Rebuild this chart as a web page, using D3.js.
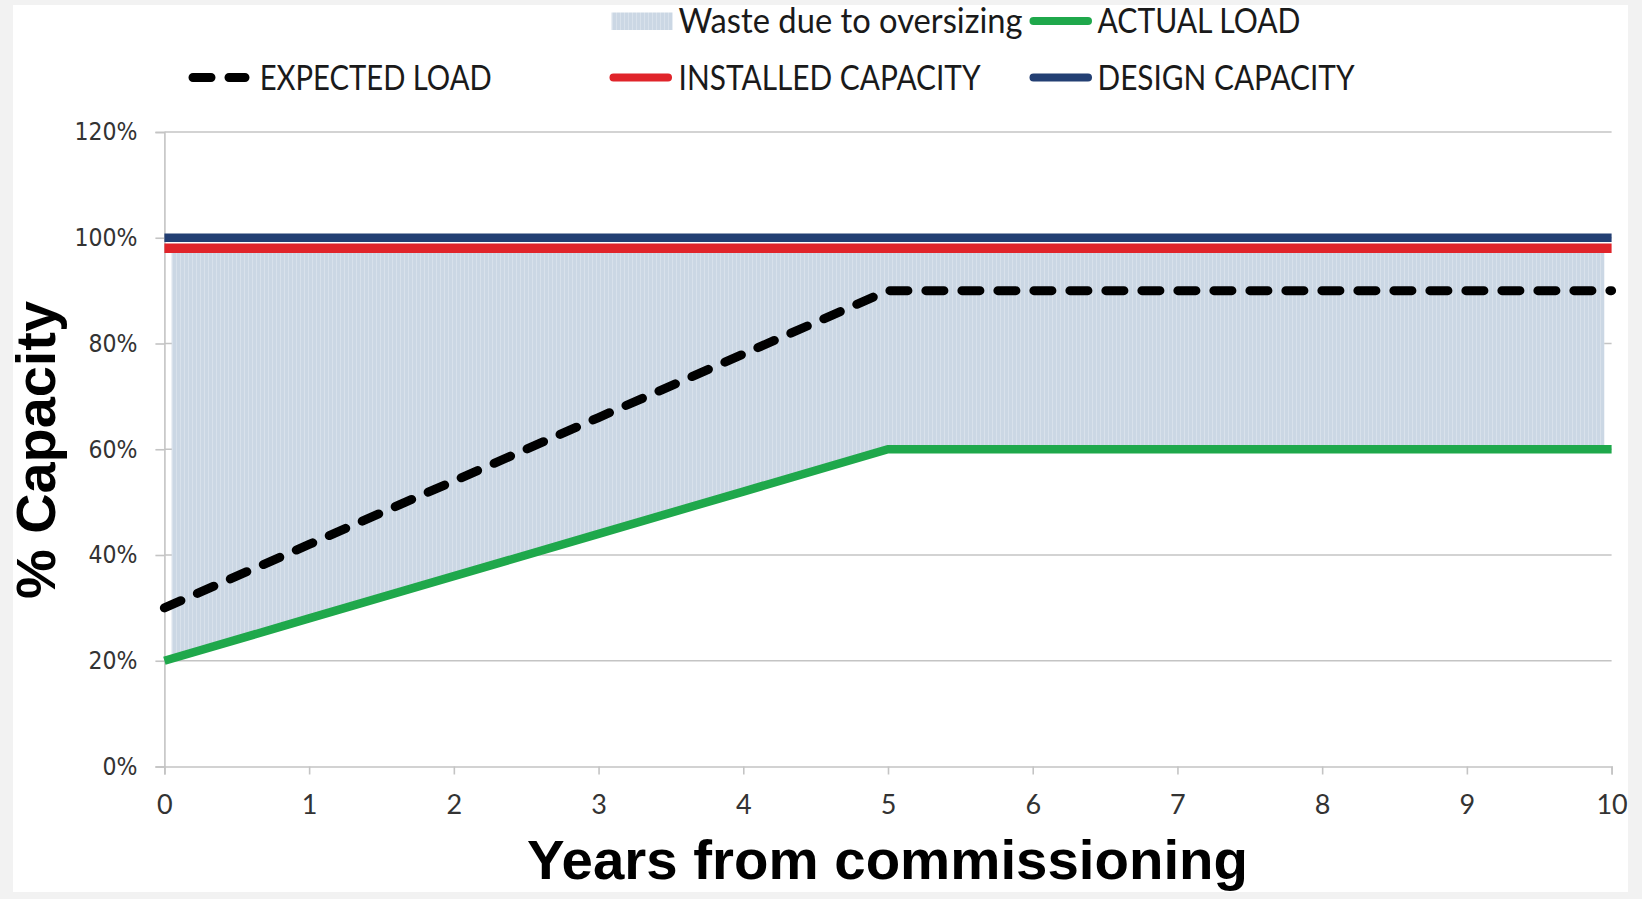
<!DOCTYPE html>
<html>
<head>
<meta charset="utf-8">
<script src="https://cdn.jsdelivr.net/npm/d3@7"></script>
<style>
  html, body { margin: 0; padding: 0; background: #f2f2f2; }
  svg { display: block; }
</style>
</head>
<body>
<svg id="chart" width="1642" height="899"></svg>
<script>
// ---- data ----
const years = [0, 1, 2, 3, 4, 5, 6, 7, 8, 9, 10];
const expectedLoad = [30, 42, 54, 66, 78, 90, 90, 90, 90, 90, 90];
const actualLoad = [20, 28, 36, 44, 52, 60, 60, 60, 60, 60, 60];
const installedCapacity = [98, 98, 98, 98, 98, 98, 98, 98, 98, 98, 98];
const designCapacity = [100, 100, 100, 100, 100, 100, 100, 100, 100, 100, 100];
const yTicks = [0, 20, 40, 60, 80, 100, 120];
const xTicks = [0, 1, 2, 3, 4, 5, 6, 7, 8, 9, 10];
const wasteSpan = [0.05, 9.95];
const legendLabels = ["Waste due to oversizing", "ACTUAL LOAD", "EXPECTED LOAD", "INSTALLED CAPACITY", "DESIGN CAPACITY"];

const colors = {
  waste: "#cbd7e4",
  wasteStripe: "#d8e1eb",
  actual: "#1fa84b",
  expected: "#000000",
  installed: "#e0242a",
  design: "#233f73",
  grid: "#c4c4c4",
  text: "#333333"
};

const svg = d3.select("#chart");

// white panel
svg.append("rect").attr("x", 13).attr("y", 5).attr("width", 1615).attr("height", 887).attr("fill", "#ffffff");

// pattern
const defs = svg.append("defs");
const pat = defs.append("pattern").attr("id", "wastePat").attr("patternUnits", "userSpaceOnUse")
  .attr("width", 4).attr("height", 4);
pat.append("rect").attr("width", 4).attr("height", 4).attr("fill", colors.waste);
pat.append("rect").attr("x", 0).attr("width", 1).attr("height", 4).attr("fill", colors.wasteStripe);

const x = d3.scaleLinear().domain([0, 10]).range([164.4, 1611.6]);
const y = d3.scaleLinear().domain([0, 120]).range([766.5, 132]);

// gridlines
svg.append("g").selectAll("line").data(yTicks.filter(d => d > 0)).join("line")
  .attr("x1", x(0)).attr("x2", x(10))
  .attr("y1", d => y(d)).attr("y2", d => y(d))
  .attr("stroke", colors.grid).attr("stroke-width", 1.6);

// waste area (clipped to inner span)
defs.append("clipPath").attr("id", "wasteClip").append("rect")
  .attr("x", x(wasteSpan[0])).attr("y", y(120))
  .attr("width", x(wasteSpan[1]) - x(wasteSpan[0])).attr("height", y(0) - y(120));
const area = d3.area()
  .x((d, i) => x(years[i]))
  .y0((d, i) => y(actualLoad[i]))
  .y1((d, i) => y(installedCapacity[i]));
svg.append("path").datum(years).attr("d", area)
  .attr("fill", "url(#wastePat)").attr("clip-path", "url(#wasteClip)");

// axes
const yAxis = d3.axisLeft(y).tickValues(yTicks).tickFormat(d => d + "%").tickSize(9).tickPadding(18);
const gy = svg.append("g").attr("transform", `translate(${x(0)},0)`).call(yAxis);
gy.select(".domain").attr("stroke", colors.grid).attr("stroke-width", 1.6);
gy.selectAll(".tick line").attr("stroke", colors.grid).attr("stroke-width", 1.6);
gy.selectAll(".tick text")
  .attr("font-family", "'DejaVu Sans Condensed', 'DejaVu Sans', sans-serif")
  .attr("font-size", 24.5).attr("fill", colors.text);

const xAxis = d3.axisBottom(x).tickValues(xTicks).tickFormat(d3.format("d")).tickSize(8).tickPadding(14);
const gx = svg.append("g").attr("transform", `translate(0,${y(0)})`).call(xAxis);
gx.select(".domain").attr("stroke", colors.grid).attr("stroke-width", 1.6);
gx.selectAll(".tick line").attr("stroke", colors.grid).attr("stroke-width", 1.6);
gx.selectAll(".tick text")
  .attr("font-family", "Lato, sans-serif")
  .attr("font-size", 27).attr("fill", colors.text)
  .attr("y", 47).attr("dy", 0);

// lines
const lineOf = arr => d3.line().x((d, i) => x(years[i])).y((d, i) => y(arr[i]))(years);

svg.append("path").attr("d", lineOf(actualLoad)).attr("fill", "none")
  .attr("stroke", colors.actual).attr("stroke-width", 8.5);
svg.append("path").attr("d", lineOf(expectedLoad)).attr("fill", "none")
  .attr("stroke", colors.expected).attr("stroke-width", 9)
  .attr("stroke-dasharray", "18,18").attr("stroke-linecap", "round");
svg.append("path").attr("d", lineOf(installedCapacity)).attr("fill", "none")
  .attr("stroke", colors.installed).attr("stroke-width", 9.5);
svg.append("path").attr("d", lineOf(designCapacity)).attr("fill", "none")
  .attr("stroke", colors.design).attr("stroke-width", 8.5);

// legend
const lg = svg.append("g").attr("font-family", "Lato, sans-serif").attr("font-size", 34).attr("fill", "#1a1a1a");
// row 1
lg.append("rect").attr("x", 611.6).attr("y", 12.5).attr("width", 61).attr("height", 17.5).attr("fill", "url(#wastePat)");
lg.append("text").attr("x", 678.6).attr("y", 33).text(legendLabels[0])
  .attr("textLength", 344).attr("lengthAdjust", "spacingAndGlyphs");
lg.append("line").attr("x1", 1033.5).attr("x2", 1088).attr("y1", 21).attr("y2", 21)
  .attr("stroke", colors.actual).attr("stroke-width", 8).attr("stroke-linecap", "round");
lg.append("text").attr("x", 1097.5).attr("y", 33).text(legendLabels[1])
  .attr("textLength", 203).attr("lengthAdjust", "spacingAndGlyphs");
// row 2
lg.append("line").attr("x1", 193).attr("x2", 245).attr("y1", 77.5).attr("y2", 77.5)
  .attr("stroke", colors.expected).attr("stroke-width", 9).attr("stroke-linecap", "round")
  .attr("stroke-dasharray", "18,18");
lg.append("text").attr("x", 259.7).attr("y", 90).text(legendLabels[2])
  .attr("textLength", 232).attr("lengthAdjust", "spacingAndGlyphs");
lg.append("line").attr("x1", 613.5).attr("x2", 668).attr("y1", 77.5).attr("y2", 77.5)
  .attr("stroke", colors.installed).attr("stroke-width", 8).attr("stroke-linecap", "round");
lg.append("text").attr("x", 678.6).attr("y", 90).text(legendLabels[3])
  .attr("textLength", 302).attr("lengthAdjust", "spacingAndGlyphs");
lg.append("line").attr("x1", 1033.5).attr("x2", 1088).attr("y1", 77.5).attr("y2", 77.5)
  .attr("stroke", colors.design).attr("stroke-width", 8).attr("stroke-linecap", "round");
lg.append("text").attr("x", 1097.5).attr("y", 90).text(legendLabels[4])
  .attr("textLength", 257).attr("lengthAdjust", "spacingAndGlyphs");

// axis titles
svg.append("text").attr("transform", "translate(55,450) rotate(-90)")
  .attr("text-anchor", "middle").attr("font-family", "'Liberation Sans', Arial, sans-serif")
  .attr("font-weight", "bold").attr("font-size", 56).attr("fill", "#000")
  .attr("textLength", 298).attr("lengthAdjust", "spacingAndGlyphs")
  .text("% Capacity");
svg.append("text").attr("x", 887.5).attr("y", 879)
  .attr("text-anchor", "middle").attr("font-family", "'Liberation Sans', Arial, sans-serif")
  .attr("font-weight", "bold").attr("font-size", 56).attr("fill", "#000")
  .attr("textLength", 721).attr("lengthAdjust", "spacingAndGlyphs")
  .text("Years from commissioning");
</script>
</body>
</html>
